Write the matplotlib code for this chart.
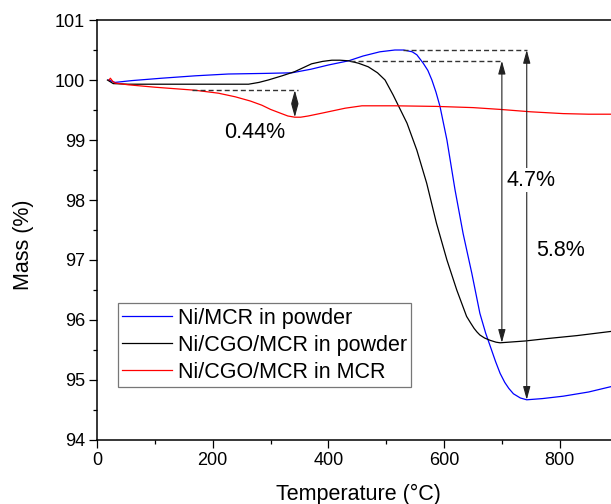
import numpy as np
import matplotlib
matplotlib.use("Agg")
import matplotlib.pyplot as plt
from matplotlib.ticker import MultipleLocator

plt.rcParams['font.family'] = ['Liberation Sans', 'DejaVu Sans']

# data (temperature in C, mass in %)
blue_t = [20, 31, 60, 112, 170, 227, 290, 337, 370, 400, 435, 460, 489, 515, 530,
          545, 553, 564, 572, 579, 586, 593, 605, 619, 633, 648, 662, 672, 680, 689,
          697, 705, 712, 720, 732, 743, 770, 806, 850, 889, 900]
blue_m = [100.0, 99.96, 99.99, 100.03, 100.07, 100.10, 100.11, 100.12, 100.18, 100.25,
          100.32, 100.40, 100.47, 100.50, 100.50, 100.47, 100.42, 100.28, 100.16, 100.0,
          99.80, 99.56, 99.0, 98.17, 97.44, 96.78, 96.11, 95.78, 95.56, 95.31, 95.11,
          94.96, 94.86, 94.77, 94.70, 94.67, 94.69, 94.73, 94.80, 94.89, 94.91]

black_t = [18, 28, 54, 110, 169, 230, 262, 280, 296, 320, 342, 371, 390, 406, 420,
           435, 452, 469, 485, 498, 512, 536, 553, 570, 587, 605, 622, 639, 646, 652,
           657, 662, 670, 680, 690, 697, 740, 778, 830, 889, 900]
black_m = [100.0, 99.94, 99.93, 99.93, 99.93, 99.93, 99.93, 99.96, 100.0, 100.07,
           100.14, 100.27, 100.31, 100.33, 100.33, 100.32, 100.28, 100.22, 100.12,
           100.0, 99.75, 99.28, 98.83, 98.28, 97.61, 97.0, 96.5, 96.06, 95.95, 95.86,
           95.80, 95.75, 95.70, 95.66, 95.63, 95.62, 95.65, 95.69, 95.74, 95.81, 95.82]

red_t = [21, 23, 27, 31, 54, 100, 169, 210, 239, 265, 285, 300, 319, 330, 342, 352,
         365, 390, 429, 458, 515, 587, 650, 697, 750, 806, 850, 889, 900]
red_m = [100.0, 100.03, 99.98, 99.95, 99.92, 99.88, 99.83, 99.78, 99.72, 99.65, 99.58,
         99.51, 99.44, 99.40, 99.38, 99.38, 99.40, 99.45, 99.53, 99.57, 99.57, 99.56,
         99.54, 99.51, 99.47, 99.44, 99.43, 99.43, 99.43]

labels = ['Ni/MCR in powder', 'Ni/CGO/MCR in powder', 'Ni/CGO/MCR in MCR']

# dashed reference lines: (x start, x end, y)
dash_lines = [(164, 348, 99.83), (437, 700, 100.32), (529, 743, 100.5)]
# vertical double arrows: (x, y top, y bottom)
arrows = [(342, 99.83, 99.38), (700, 100.32, 95.62), (743, 100.5, 94.67)]
notes = [('0.44%', 273, 99.13), ('4.7%', 750, 98.33), ('5.8%', 802, 97.15)]

fig = plt.figure(figsize=(6.11, 5.04), dpi=100)
ax = fig.add_axes([0.1588, 0.127, 0.8519, 0.8333])

ax.plot(blue_t, blue_m, color='#0000ff', lw=0.9, label=labels[0])
ax.plot(black_t, black_m, color='black', lw=0.9, label=labels[1])
ax.plot(red_t, red_m, color='#ff0000', lw=0.9, label=labels[2])

for x0, x1, y in dash_lines:
    ax.plot([x0, x1], [y, y], color='#333333', lw=1.0, linestyle=(0, (3.6, 2.2)))

for x, y0, y1 in arrows:
    ax.annotate('', xy=(x, y1), xytext=(x, y0),
                arrowprops=dict(arrowstyle='<|-|>,head_length=0.4,head_width=0.11',
                                mutation_scale=20, color='#222222', lw=0.8,
                                shrinkA=0, shrinkB=0))

for txt, x, y in notes:
    ax.text(x, y, txt, fontsize=15.5, ha='center', va='center',
            bbox=dict(facecolor='white', edgecolor='none', pad=1))

ax.set_xlim(0, 900)
ax.set_ylim(94, 101)
ax.xaxis.set_major_locator(MultipleLocator(200))
ax.xaxis.set_minor_locator(MultipleLocator(100))
ax.yaxis.set_major_locator(MultipleLocator(1))
ax.yaxis.set_minor_locator(MultipleLocator(0.5))
ax.tick_params(which='major', direction='out', length=5.5, width=0.9, labelsize=13, pad=3)
ax.tick_params(which='minor', direction='out', length=3, width=0.9)
for s in ax.spines.values():
    s.set_linewidth(1.1)

ax.set_xlabel('Temperature (°C)', fontsize=15.5)
ax.set_ylabel('Mass (%)', fontsize=15.5)
ax.xaxis.set_label_coords(0.503, -0.104)
ax.yaxis.set_label_coords(-0.122, 0.464)

leg = ax.legend(loc='lower left', bbox_to_anchor=(0.040, 0.126), borderaxespad=0,
                fontsize=15.5, frameon=True, fancybox=False, handlelength=2.3,
                handletextpad=0.28, borderpad=0.2, labelspacing=0.28)
leg.get_frame().set_edgecolor('#555555')
leg.get_frame().set_linewidth(0.9)

fig.savefig('out.png', dpi=100)
